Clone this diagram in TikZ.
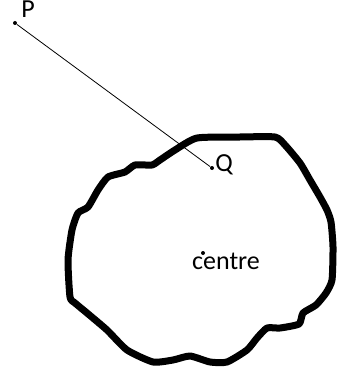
\documentclass[tikz,border=0pt]{standalone}
\usepackage{fontspec}
\setmainfont{Carlito}
\usetikzlibrary{positioning}
\tikzset{every picture/.style={line width=0.8pt}}
\tikzset{
  dot/.style={circle, fill, inner sep=0pt, minimum size=4pt},
  lbl/.style={font=\fontsize{26}{30}\selectfont, inner sep=0pt},
  blob/.style={line width=7pt, line join=round}
}

\begin{document}
\begin{tikzpicture}[x=1pt, y=-1pt]
        \useasboundingbox (0,0) rectangle (337,374);
        % the closed region
        \draw[blob] plot[smooth cycle, tension=0.35] coordinates {
            (197,138) (240,137) (275,137) (285,145) (300,163) (310,180)
            (320,197) (327,210) (331,222) (333,247) (332,280) (326,293)
            (316,305) (303,313) (299,324) (280,328) (267,328) (257,338)
            (247,350) (227,362) (210,362) (190,356) (173,360) (153,362)
            (127,350) (107,330) (87,313) (75,303) (70,297) (68,260)
            (72,230) (78,213) (88,207) (98,190) (108,177) (125,172)
            (135,165) (152,165) (160,160) (175,150)};
        % points
        \node[dot] (p) at (15,23) {};
        \node[dot] (q) at (212,168) {};
        \node[dot] (c) at (203,253) {};
        \node[lbl, anchor=base west] (plbl) at (21,18) {P};
        \node[lbl, anchor=base west] (qlbl) at (215,171) {Q};
        \node[lbl, anchor=base] (clbl) at (226,269) {centre};
        % segment from P to Q
        \draw (p) -- (q);
\end{tikzpicture}
\end{document}
